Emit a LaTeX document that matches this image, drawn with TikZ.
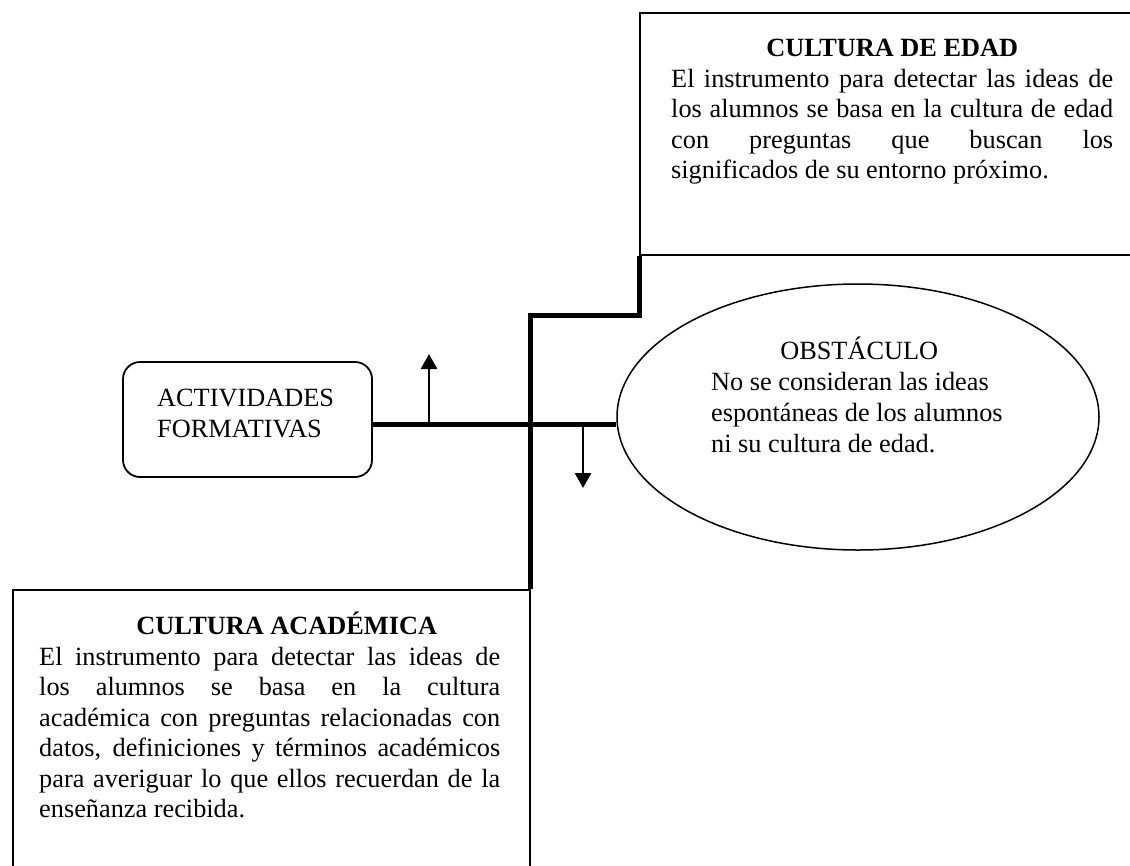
\documentclass[tikz,border=0pt]{standalone}
\usepackage{fontspec}
\setmainfont{Liberation Serif}
\usetikzlibrary{arrows.meta,shapes.geometric}
\newcommand{\myjl}[1]{\hbox to\hsize{\spaceskip=0pt\xspaceskip=0pt #1}}
\newcommand{\myctr}[1]{\hbox to\hsize{\hss#1\hss}}
\begin{document}
\begin{tikzpicture}[x=1pt,y=-1pt,
  thinbox/.style={draw, line width=1.8pt, inner sep=0pt},
  thickline/.style={line width=5pt},
  arr/.style={line width=2.6pt, -{Triangle[width=16pt,length=15pt]}},
  txt/.style={inner sep=0pt, font=\fontsize{26.3}{30.5}\selectfont, align=justify, anchor=north west}]
\useasboundingbox (0,0) rectangle (1130,865);
\clip (0,0) rectangle (1130,865);

% boxes
\node[thinbox, minimum width=560pt, minimum height=242pt, anchor=north west] (ced) at (639,12) {};
\node[thinbox, minimum width=517pt, minimum height=330pt, anchor=north west] (cab) at (12,589) {};
\node[thinbox, rounded corners=17pt, minimum width=249pt, minimum height=115pt] (act) at (247.5,419.5) {};
\node[draw, ellipse, line width=1.5pt, minimum width=482pt, minimum height=266pt, inner sep=0pt] (obs) at (858,417) {};

% texts
\node[txt, text width=442pt] (cedtxt) at (671,39) {%
\myctr{\bfseries CULTURA DE EDAD}
\myjl{El instrumento para detectar las ideas de}
\myjl{los alumnos se basa en la cultura de edad}
\myjl{con preguntas que buscan los}
\hbox{significados de su entorno próximo.}};

\node[txt, text width=461pt] (cabtxt) at (39,612) {%
\myctr{\kern34pt\bfseries CULTURA ACADÉMICA}
\myjl{El instrumento para detectar las ideas de}
\myjl{los alumnos se basa en la cultura}
\myjl{académica con preguntas relacionadas con}
\myjl{datos, definiciones y términos académicos}
\myjl{para averiguar lo que ellos recuerdan de la}
\hbox{enseñanza recibida.}};

\node[txt, text width=296pt, font=\fontsize{26.3}{31}\selectfont] (obstxt) at (711,337) {%
\myctr{OBSTÁCULO}
\hbox{No se consideran las ideas}
\hbox{espontáneas de los alumnos}
\hbox{ni su cultura de edad.}};

\node[txt, text width=200pt, font=\fontsize{26.3}{31}\selectfont] (acttxt) at (157,389) {%
\hbox{ACTIVIDADES}
\hbox{FORMATIVAS}};

% connectors
\coordinate (axis) at (0,424);
\coordinate (knee) at (639,315);
\draw[thickline] (act.east |- axis) -- (obs.west |- axis);
\draw[thickline] (cab.north east) |- (knee) -- (ced.south west);
\coordinate (upS) at (429,424);
\coordinate (upE) at (429,354);
\coordinate (dnS) at (583,424);
\coordinate (dnE) at (583,488);
\draw[arr] (upS) -- (upE);
\draw[arr] (dnS) -- (dnE);
\end{tikzpicture}
\end{document}
